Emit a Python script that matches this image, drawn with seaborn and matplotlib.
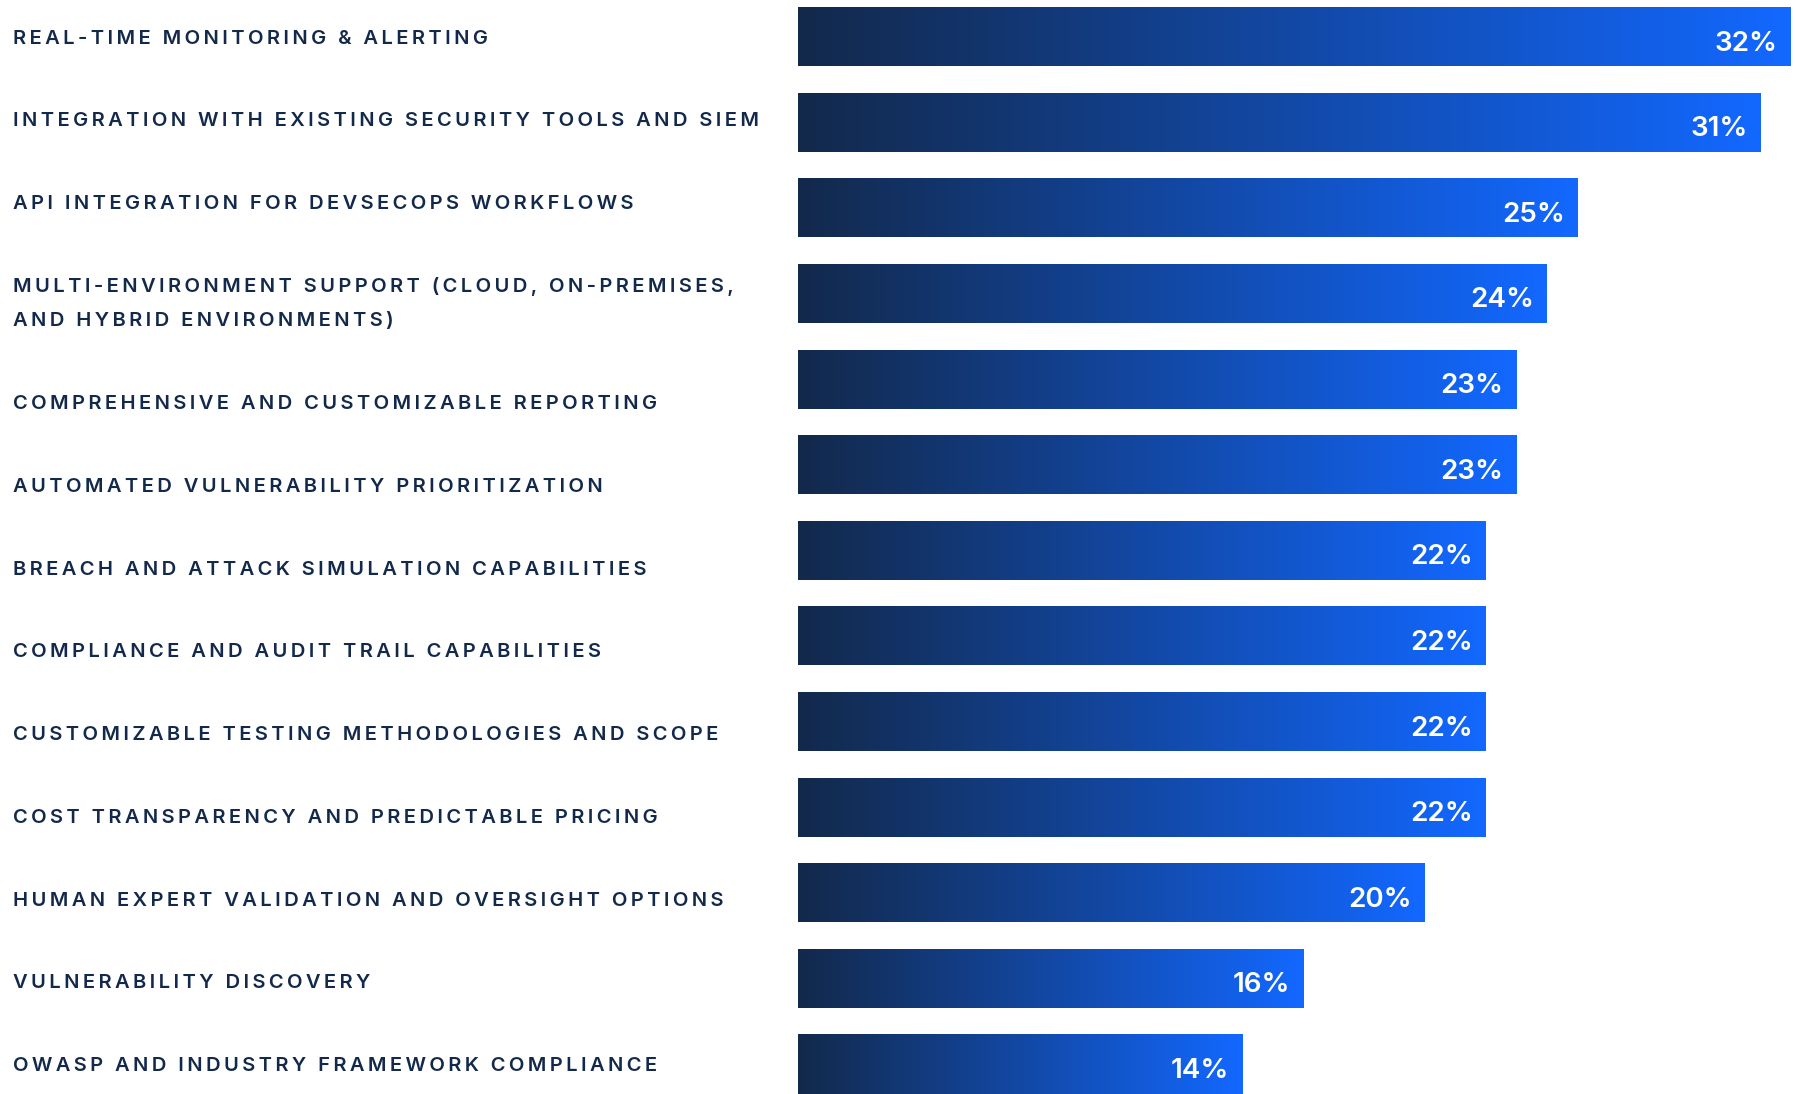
import numpy as np
import pandas as pd
import matplotlib
matplotlib.use("Agg")
import matplotlib.pyplot as plt
import matplotlib.transforms as mtransforms
from matplotlib.colors import LinearSegmentedColormap
import seaborn as sns

# Survey results: share of respondents selecting each capability
features = [
    "REAL-TIME MONITORING & ALERTING",
    "INTEGRATION WITH EXISTING SECURITY TOOLS AND SIEM",
    "API INTEGRATION FOR DEVSECOPS WORKFLOWS",
    "MULTI-ENVIRONMENT SUPPORT (CLOUD, ON-PREMISES,\nAND HYBRID ENVIRONMENTS)",
    "COMPREHENSIVE AND CUSTOMIZABLE REPORTING",
    "AUTOMATED VULNERABILITY PRIORITIZATION",
    "BREACH AND ATTACK SIMULATION CAPABILITIES",
    "COMPLIANCE AND AUDIT TRAIL CAPABILITIES",
    "CUSTOMIZABLE TESTING METHODOLOGIES AND SCOPE",
    "COST TRANSPARENCY AND PREDICTABLE PRICING",
    "HUMAN EXPERT VALIDATION AND OVERSIGHT OPTIONS",
    "VULNERABILITY DISCOVERY",
    "OWASP AND INDUSTRY FRAMEWORK COMPLIANCE",
]
shares = [32, 31, 25, 24, 23, 23, 22, 22, 22, 22, 20, 16, 14]

NAVY = "#13294B"
BRIGHT = "#1268FF"
TEXT = "#13294B"

sns.set_theme(style="white")
plt.rcParams["font.family"] = ["Inter", "DejaVu Sans"]

W, H = 1796, 1094
fig = plt.figure(figsize=(W / 100, H / 100), dpi=100)
fig.patch.set_facecolor("white")

bar_left_px = 798
ax = fig.add_axes([bar_left_px / W, 0, 1 - bar_left_px / W, 1])

df = pd.DataFrame({"feature": features, "share": shares})
sns.barplot(data=df, y="feature", x="share", orient="h", ax=ax,
            color=NAVY, saturation=1, width=0.69, errorbar=None)

# Bars sit on a small inset baseline left of zero
x_min, x_max = -0.574, 32.18
y_top, y_bot = -0.4276, 12.35

cmap = LinearSegmentedColormap.from_list("navy_blue", [NAVY, BRIGHT])
grad = np.linspace(0, 1, 512).reshape(1, -1)

for patch, val in zip(ax.patches, shares):
    y0 = patch.get_y()
    h = patch.get_height()
    patch.set_x(x_min)
    patch.set_width(val - x_min)
    patch.set_edgecolor("none")
    im = ax.imshow(grad, cmap=cmap, aspect="auto", interpolation="bicubic",
                   extent=[x_min, val, y0 + h, y0], zorder=patch.get_zorder() + 0.1)
    im.set_clip_path(patch)
    ax.annotate(f"{val}%", xy=(val, y0 + h / 2), xytext=(-12.6, -4),
                textcoords="offset pixels", ha="right", va="center_baseline",
                color="white", fontsize=20, fontweight="semibold",
                zorder=5)

ax.set_xlim(x_min, x_max)
ax.set_ylim(y_bot, y_top)
ax.set_axis_off()


def tracked(s):
    # widen letter spacing with thin spaces between characters
    return "\u2009".join(s)


# Category labels: stacked rows with equal gaps, first and last row aligned to the outer bars
line_h = 0.402
n_lines = [len(f.split("\n")) for f in features]
heights = [n * line_h for n in n_lines]
span = len(features) - 1
gap = (span - (sum(heights) - heights[0] / 2 - heights[-1] / 2)) / span
centers = [0.0]
for i in range(1, len(features)):
    centers.append(centers[-1] + heights[i - 1] / 2 + gap + heights[i] / 2)

trans = mtransforms.blended_transform_factory(fig.transFigure, ax.transData)
for feat, c, n in zip(features, centers, n_lines):
    for k, line in enumerate(feat.split("\n")):
        yy = c - (n - 1) / 2 * line_h + k * line_h
        ax.text(12.6 / W, yy, tracked(line), transform=trans, ha="left",
                va="center_baseline", color=TEXT, fontsize=14.5,
                fontweight="semibold", clip_on=False)

fig.savefig("out.png", dpi=100, facecolor="white")
